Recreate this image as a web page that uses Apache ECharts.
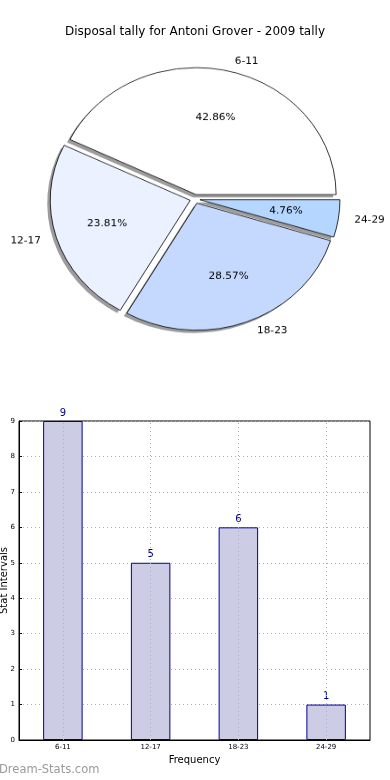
<!DOCTYPE html>
<html><head><meta charset="utf-8">
<script src="https://cdn.jsdelivr.net/npm/echarts@6/dist/echarts.min.js"></script>
<style>
html,body{margin:0;padding:0;background:#fff;}
#bar{position:absolute;left:0;top:0;width:390px;height:780px;}
#pie{position:absolute;left:0;top:0;width:390px;height:400px;transform-origin:195px 199px;transform:scaleY(0.907);}
</style></head>
<body>
<div id="bar"></div>
<div id="pie"></div>
<script>
const titleText = 'Disposal tally for Antoni Grover - 2009 tally';
const categories = ['6-11', '12-17', '18-23', '24-29'];
const counts = [9, 5, 6, 1];
const pieColors = ['#ffffff', '#ebf1ff', '#c5d9ff', '#b5d6ff'];
const yTicks = [0, 1, 2, 3, 4, 5, 6, 7, 8, 9];
const xAxisName = 'Frequency';
const yAxisName = 'Stat Intervals';
const watermark = 'Dream-Stats.com';

const FONT = 'DejaVu Sans';
const PIE_CX = 195, PIE_CY = 199, PIE_R = 140, EXPLODE = 5;

function pieBase(extra) {
  return Object.assign({
    type: 'pie',
    center: [PIE_CX, PIE_CY],
    radius: PIE_R,
    startAngle: 0,
    clockwise: false,
    selectedMode: 'multiple',
    selectedOffset: EXPLODE,
    avoidLabelOverlap: false,
    silent: true,
    emphasis: { disabled: true },
    labelLine: { show: false }
  }, extra);
}

const pie = echarts.init(document.getElementById('pie'), null, {renderer: 'canvas'});
pie.setOption({
  animation: false,
  backgroundColor: 'transparent',
  series: [
    pieBase({
      z: 1,
      center: [PIE_CX - 3, PIE_CY + 3],
      data: categories.map((c, i) => ({ name: c, value: counts[i], selected: true })),
      itemStyle: { color: 'rgba(90,90,90,0.6)', borderWidth: 0 },
      label: { show: false }
    }),
    pieBase({
      z: 2,
      data: categories.map((c, i) => ({
        name: c, value: counts[i], selected: true,
        itemStyle: { color: pieColors[i] }
      })),
      itemStyle: { borderColor: '#000', borderWidth: 0.8 },
      label: {
        show: true, position: 'outside', formatter: '{b}',
        fontFamily: FONT, fontSize: 10.5, color: '#000'
      },
      labelLine: { show: false, length: 11, length2: 0 }
    }),
    pieBase({
      z: 3,
      radius: [28, PIE_R],
      data: categories.map((c, i) => ({ name: c, value: counts[i], selected: true })),
      itemStyle: { color: 'rgba(0,0,0,0)', borderWidth: 0 },
      label: {
        show: true, position: 'inside', formatter: '{d}%',
        fontFamily: FONT, fontSize: 10.5, color: '#000'
      }
    })
  ]
});

const bar = echarts.init(document.getElementById('bar'), null, {renderer: 'canvas'});
bar.setOption({
  animation: false,
  backgroundColor: '#fff',
  title: {
    text: titleText, left: 'center', top: 21,
    textStyle: { fontFamily: FONT, fontSize: 12, fontWeight: 'normal', color: '#000' }
  },
  graphic: [{
    type: 'text', left: -1, top: 764,
    style: { text: watermark, fontFamily: FONT, fontSize: 11.5, fill: '#9a9a9a' }
  }],
  grid: {
    left: 19, right: 20, top: 421, bottom: 40,
    containLabel: false, outerBoundsMode: 'none',
    show: true, borderColor: '#000', borderWidth: 1, backgroundColor: 'transparent'
  },
  xAxis: {
    type: 'category', data: categories,
    name: xAxisName, nameLocation: 'middle', nameGap: 15, nameMoveOverlap: false,
    nameTextStyle: { fontFamily: FONT, fontSize: 10, color: '#000' },
    axisLine: { lineStyle: { color: '#000', width: 1 } },
    axisTick: { alignWithLabel: true, inside: true, length: 3, lineStyle: { color: '#000' } },
    axisLabel: { fontFamily: FONT, fontSize: 7, color: '#000', margin: 4 },
    splitLine: { show: false }
  },
  yAxis: {
    type: 'value', min: 0, max: 9, interval: 1,
    name: yAxisName, nameLocation: 'middle', nameGap: 10, nameMoveOverlap: false,
    nameTextStyle: { fontFamily: FONT, fontSize: 10, color: '#000' },
    axisLine: { show: true, lineStyle: { color: '#000', width: 1 } },
    axisTick: { show: true, inside: true, length: 3, lineStyle: { color: '#000' } },
    axisLabel: { fontFamily: FONT, fontSize: 7, color: '#000', margin: 4,
      formatter: v => yTicks.includes(v) ? String(v) : '' },
    splitLine: { show: true, lineStyle: { color: '#b0b0b0', type: [1, 3], width: 1 } }
  },
  series: [{
    type: 'bar',
    data: counts,
    barWidth: '45%',
    itemStyle: { color: '#ccccE5', borderColor: '#000099', borderWidth: 1 },
    label: { show: true, position: 'top', distance: 3,
      fontFamily: FONT, fontSize: 10, color: '#000080' },
    markLine: {
      silent: true, symbol: 'none', label: { show: false },
      lineStyle: { color: '#b0b0b0', type: [1, 3], width: 1 },
      data: categories.map(c => ({ xAxis: c }))
    },
    z: 2
  }]
});
</script>
</body></html>
